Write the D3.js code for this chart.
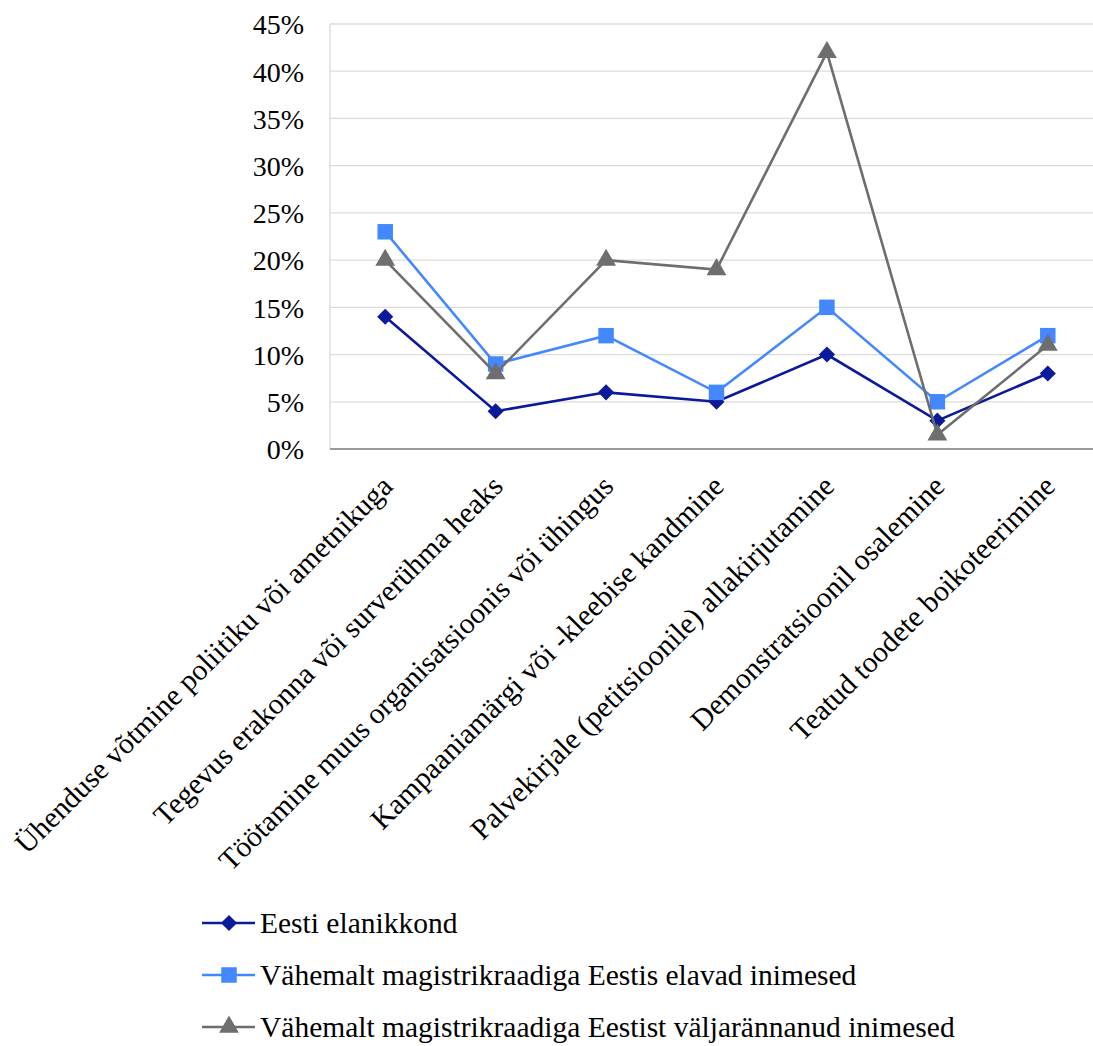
<!DOCTYPE html>
<html><head><meta charset="utf-8">
<script src="https://cdn.jsdelivr.net/npm/d3@7"></script>
<style>body{margin:0;background:#fff}svg{display:block}</style>
</head><body>
<script>
const categories = ["Ühenduse võtmine poliitiku või ametnikuga","Tegevus erakonna või surverühma heaks","Töötamine muus organisatsioonis või ühingus","Kampaaniamärgi või -kleebise kandmine","Palvekirjale (petitsioonile) allakirjutamine","Demonstratsioonil osalemine","Teatud toodete boikoteerimine"];
const seriesNames = ["Eesti elanikkond","Vähemalt magistrikraadiga Eestis elavad inimesed","Vähemalt magistrikraadiga Eestist väljarännanud inimesed"];
const eestiElanikkond = [14,4,6,5,10,3,8];
const magistriEestis = [23,9,12,6,15,5,12];
const magistriValjarannanud = [20,8,20,19,42,1.5,11];
const yTicks = [0,5,10,15,20,25,30,35,40,45];
const colors = ["#0a1a9a","#4488ff","#6e6e6e"];
const markers = ["diamond","square","triangle"];
const allSeries = [eestiElanikkond, magistriEestis, magistriValjarannanud];
const FONT = "Liberation Serif";

const W=1093,H=1046;
const svg=d3.select("body").append("svg").attr("width",W).attr("height",H).attr("font-family",FONT);
const pL=330,pR=1103,pT=24,pB=449;
const x=d3.scaleBand().domain(categories).range([pL,pR]);
const y=d3.scaleLinear().domain([0,45]).range([pB,pT]);

// grid
svg.append("g").selectAll("line").data(yTicks.slice(1)).join("line")
  .attr("x1",pL).attr("x2",pR).attr("y1",d=>y(d)).attr("y2",d=>y(d))
  .attr("stroke","#dcdcdc").attr("stroke-width",1.3);
svg.append("line").attr("x1",pL).attr("x2",pL).attr("y1",pT).attr("y2",pB)
  .attr("stroke","#d8d8d8").attr("stroke-width",1.3);

// y axis
const ya=svg.append("g").attr("transform",`translate(${pL},0)`)
  .call(d3.axisLeft(y).tickValues(yTicks).tickFormat(d=>d+"%").tickSize(0).tickPadding(26));
ya.attr("font-family",FONT).attr("font-size",28);
ya.select(".domain").remove();
ya.selectAll("text").attr("font-family",FONT).attr("font-size",28).attr("fill","#000").attr("dy","0.35em");

// baseline
svg.append("line").attr("x1",pL).attr("x2",pR).attr("y1",pB).attr("y2",pB)
  .attr("stroke","#9a9a9a").attr("stroke-width",2.2);

// x labels
const xa=svg.append("g").attr("transform",`translate(0,${pB})`)
  .call(d3.axisBottom(x).tickSize(0).tickFormat(d=>d));
xa.attr("font-family",FONT).attr("font-size",29.5);
xa.select(".domain").remove();
xa.selectAll(".tick text")
  .attr("font-family",FONT).attr("font-size",29.5).attr("fill","#000")
  .attr("text-anchor","end").attr("y",0).attr("dy",0)
  .attr("transform","translate(9,39) rotate(-45)");

const sym={diamond:d3.symbol().type(d3.symbolSquare).size(130),
  square:d3.symbol().type(d3.symbolSquare).size(240),
  triangle:d3.symbol().type(d3.symbolTriangle).size(170)};
function drawMarker(g,type,cx,cy,color){
  const p=g.append("path").attr("d",sym[type]()).attr("fill",color);
  if(type==="diamond") p.attr("transform",`translate(${cx},${cy}) rotate(45)`);
  else p.attr("transform",`translate(${cx},${cy})`);
}
const line=d3.line().x((d,i)=>x(categories[i])+x.bandwidth()/2).y(d=>y(d));
allSeries.forEach((s,k)=>{
  const g=svg.append("g");
  g.append("path").attr("d",line(s)).attr("fill","none").attr("stroke",colors[k]).attr("stroke-width",2.6);
  s.forEach((v,i)=>drawMarker(g,markers[k],x(categories[i])+x.bandwidth()/2,y(v),colors[k]));
});

// legend
const ly0=923, lstep=52;
seriesNames.forEach((n,k)=>{
  const g=svg.append("g").attr("transform",`translate(0,${ly0+k*lstep})`);
  g.append("line").attr("x1",202).attr("x2",255).attr("y1",0).attr("y2",0).attr("stroke",colors[k]).attr("stroke-width",2.6);
  drawMarker(g,markers[k],229,0,colors[k]);
  g.append("text").attr("x",260).attr("y",10).attr("font-family",FONT).attr("font-size",29.5).attr("fill","#000").text(n);
});
</script>
</body></html>
